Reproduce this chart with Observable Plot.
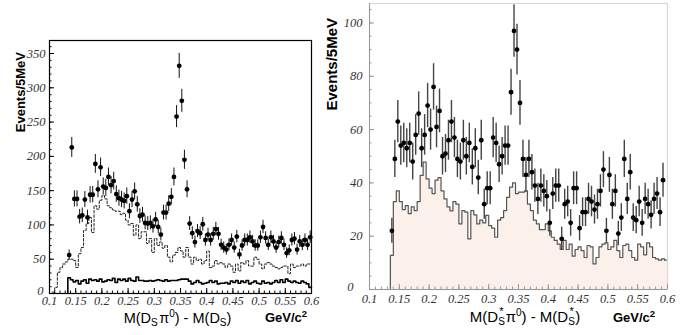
<!DOCTYPE html>
<html><head><meta charset="utf-8">
<script src="https://cdn.jsdelivr.net/npm/d3@7"></script>
<script src="https://cdn.jsdelivr.net/npm/@observablehq/plot@0.6"></script>
<style>
body{margin:0;background:#fff;}
#wrap{position:relative;width:699px;height:335px;overflow:hidden;background:#fff;}
#wrap svg{position:absolute;top:0;}
</style></head><body><div id="wrap"></div>
<script>
// ---------- data ----------
const binW = 0.005;

// Left panel: M(Ds pi0) - M(Ds)
const leftPointStart = 0.1375;
const leftPoints = [56, 213, 138, 138, 112, 114, 137, 111, 144, 144,
 189, 152, 184, 156, 154, 170, 158, 164, 145, 139,
 137, 135, 142, 120, 137, 149, 130, 113, 115, 103,
 102, 103, 98, 108, 97, 86, 118, 118, 131, 141,
 170, 258, 332, 281, 195, 152, 102, 88, 75, 91,
 88, 101, 78, 86, 78, 87, 94, 87, 71, 67,
 64, 71, 78, 67, 83, 57, 70, 78, 78, 82,
 76, 70, 70, 82, 97, 81, 71, 82, 76, 67,
 75, 81, 71, 59, 63, 78, 80, 64, 76, 71,
 78, 71, 82];
const leftSolidStart = 0.135;
const leftSolid = [23, 20, 17, 19, 14, 18, 20, 15, 21, 19,
 20, 18, 21, 17, 18, 20, 19, 22, 16, 21,
 19, 21, 18, 22, 19, 18, 24, 19, 19, 18,
 18, 19, 18, 19, 20, 19, 18, 20, 18, 19,
 19, 19, 20, 21, 21, 21, 18, 14, 16, 19,
 16, 14, 15, 16, 19, 16, 18, 14, 15, 15,
 16, 14, 18, 16, 19, 15, 18, 16, 19, 14,
 16, 18, 15, 14, 18, 15, 16, 14, 16, 19,
 16, 20, 16, 21, 18, 16, 18, 16, 15, 18,
 16, 14, 9];
const leftDashedStart = 0.105;
const leftDashed = [2, 9, 31, 38, 43, 46, 50, 50, 48, 38,
 58, 67, 92, 102, 111, 89, 128, 123, 136, 143,
 138, 128, 125, 122, 120, 120, 115, 117, 107, 100,
 102, 85, 100, 80, 90, 90, 73, 80, 60, 80,
 70, 75, 66, 70, 53, 46, 56, 60, 67, 62,
 53, 67, 53, 43, 53, 48, 50, 43, 48, 62,
 38, 40, 48, 43, 45, 43, 38, 43, 40, 31,
 43, 33, 45, 43, 48, 40, 40, 53, 50, 43,
 36, 43, 45, 43, 40, 38, 36, 38, 40, 40,
 29, 43, 38, 40, 40, 43, 40, 43, 43];

// Right panel: M(Ds* pi0) - M(Ds*)
const rightPointStart = 0.1375;
const rightPoints = [22, 49, 63, 54, 55, 53, 55, 48, 58, 66,
 53, 58, 69, 60, 76, 61, 67, 50, 51, 56,
 63, 57, 49, 48, 56, 50, 55, 46, 53, 42,
 56, 32, 38, 38, 57, 55, 47, 50, 54, 54,
 74, 97, 90, 70, 49, 43, 49, 44, 39, 34,
 39, 37, 35, 25, 36, 39, 39, 19, 32, 33,
 25, 38, 38, 23, 29, 29, 34, 33, 30, 32,
 37, 45, 22, 43, 32, 37, 21, 27, 49, 34,
 44, 27, 26, 33, 25, 34, 32, 28, 34, 36,
 29, 41];
const rightHistStart = 0.135;
const rightHist = [12.8, 33, 37, 33, 30, 31.5, 28.5, 31, 29.6, 33,
 42.8, 47.8, 41.5, 38, 36, 41, 42, 37, 34, 31,
 29.5, 33, 32, 24.6, 29.6, 29, 19, 29.6, 28, 24.6,
 26, 25, 27.8, 24, 23, 19.6, 26, 27, 29.6, 34.6,
 38.4, 40,
 36, 36.5, 36.5, 37, 32, 29.6, 26, 24.6, 22.5, 22.5,
 24.6, 22, 19.6, 18.4, 17, 15, 18.4, 15, 17, 12.5,
 15, 16, 14.6, 12, 16.5, 16, 9.6, 12, 16, 17,
 17.5, 15, 16, 18.4, 14.6, 12, 16.5, 17, 14.6, 12,
 11, 17, 16, 13, 17.5, 16, 12, 11.5, 11, 11.5, 11];

// Axes
const xDomain = [0.1, 0.6];
const xTicks = [0.1, 0.15, 0.2, 0.25, 0.3, 0.35, 0.4, 0.45, 0.5, 0.55, 0.6];
const xTickLabels = ["0.1", "0.15", "0.2", "0.25", "0.3", "0.35", "0.4", "0.45", "0.5", "0.55", "0.6"];
const leftYDomain = [0, 369];
const leftYTicks = [0, 50, 100, 150, 200, 250, 300, 350];
const leftYTickLabels = ["0", "50", "100", "150", "200", "250", "300", "350"];
const rightYDomain = [0, 107.3];
const rightYTicks = [0, 20, 40, 60, 80, 100];
const rightYTickLabels = ["0", "20", "40", "60", "80", "100"];

// ---------- helpers ----------
const xMinor = d3.range(0, 51).map(i => 0.1 + i * 0.01);
const leftYMinor = d3.range(0, 37).map(i => i * 10);
const rightYMinor = d3.range(0, 22).map(i => i * 5);
const fmtFrom = (ticks, labels) => d => labels[ticks.findIndex(t => Math.abs(t - d) < 1e-9)];

function pointsOf(start, vals) {
  return vals.map((v, i) => ({x: start + i * binW, y: v}));
}
function stepsOf(start, vals, closeAtZero) {
  const pts = [];
  if (closeAtZero) pts.push({x: start, y: 0});
  vals.forEach((v, i) => pts.push({x: start + i * binW, y: v}));
  pts.push({x: start + vals.length * binW, y: vals[vals.length - 1]});
  return pts;
}

const lp = pointsOf(leftPointStart, leftPoints);
const rp = pointsOf(rightPointStart, rightPoints);

const tf = {fontFamily: "Liberation Serif", fontStyle: "italic", fontSize: 12.5};

// ---------- left plot ----------
const left = Plot.plot({
  width: 340, height: 335,
  marginLeft: 49, marginRight: 29, marginTop: 40, marginBottom: 42,
  x: {domain: xDomain},
  y: {domain: leftYDomain},
  style: {background: "transparent", overflow: "visible"},
  marks: [
    Plot.lineY(stepsOf(leftDashedStart, leftDashed, false), {x: "x", y: "y", curve: "step-after", stroke: "#222", strokeWidth: 1, strokeDasharray: "2.5,1.8"}),
    Plot.lineY(stepsOf(leftSolidStart, leftSolid, true), {x: "x", y: "y", curve: "step-after", stroke: "#000", strokeWidth: 1.6}),
    Plot.ruleX(lp, {x: "x", y1: d => d.y - Math.sqrt(d.y), y2: d => d.y + Math.sqrt(d.y), stroke: "#111", strokeWidth: 1}),
    Plot.dot(lp, {x: "x", y: "y", r: 2.4, fill: "#000"}),
    Plot.frame({stroke: "#000", strokeWidth: 1.2}),
    Plot.axisY(leftYMinor, {tickSize: -2.5, fill: "none", stroke: "#000", label: null}),
    Plot.axisY(leftYTicks, {tickSize: -5, fill: "none", stroke: "#000", label: null}),
    Plot.axisY(leftYTicks.slice(1), {tickSize: 0, tickPadding: 4, fill: "#333", label: null, tickFormat: fmtFrom(leftYTicks, leftYTickLabels), ...tf}),
    Plot.axisY(leftYTicks.slice(0, 1), {tickSize: 0, tickPadding: 6, dy: -3, fill: "#333", label: null, tickFormat: fmtFrom(leftYTicks, leftYTickLabels), ...tf}),
    Plot.axisX(xMinor, {tickSize: -2.5, fill: "none", stroke: "#000", label: null}),
    Plot.axisX(xTicks, {tickSize: -5, fill: "none", stroke: "#000", label: null}),
    Plot.axisX(xTicks, {tickSize: 0, tickPadding: 3, fill: "#333", label: null, tickFormat: fmtFrom(xTicks, xTickLabels), ...tf})
  ]
});
left.style.left = "0px";

// ---------- right plot ----------
const right = Plot.plot({
  width: 381, height: 335,
  marginLeft: 51, marginRight: 32, marginTop: 3, marginBottom: 46,
  x: {domain: xDomain},
  y: {domain: rightYDomain},
  style: {background: "transparent", overflow: "visible"},
  marks: [
    Plot.areaY(stepsOf(rightHistStart, rightHist, false), {x: "x", y: "y", curve: "step-after", fill: "#fcf0ea"}),
    Plot.lineY(stepsOf(rightHistStart, rightHist, true), {x: "x", y: "y", curve: "step-after", stroke: "#555", strokeWidth: 1.2}),
    Plot.ruleX(rp, {x: "x", y1: d => d.y - Math.sqrt(d.y), y2: d => d.y + Math.sqrt(d.y), stroke: "#444", strokeWidth: 1.4}),
    Plot.dot(rp, {x: "x", y: "y", r: 2.4, fill: "#000"}),
    Plot.frame({stroke: "#d8d8d8", strokeWidth: 1.2}),
    Plot.ruleX([xDomain[0]], {stroke: "#999"}),
    Plot.ruleY([rightYDomain[0]], {stroke: "#999"}),
    Plot.axisY(rightYMinor, {tickSize: -2.5, fill: "none", stroke: "#999", label: null}),
    Plot.axisY(rightYTicks, {tickSize: -5, fill: "none", stroke: "#999", label: null}),
    Plot.axisY(rightYTicks.slice(1), {tickSize: 0, tickPadding: 7, fill: "#333", label: null, tickFormat: fmtFrom(rightYTicks, rightYTickLabels), ...tf}),
    Plot.axisY(rightYTicks.slice(0, 1), {tickSize: 0, tickPadding: 16, dy: -3, fill: "#333", label: null, tickFormat: fmtFrom(rightYTicks, rightYTickLabels), ...tf}),
    Plot.axisX(xMinor, {tickSize: -2.5, fill: "none", stroke: "#999", label: null}),
    Plot.axisX(xTicks, {tickSize: -5, fill: "none", stroke: "#999", label: null}),
    Plot.axisX(xTicks, {tickSize: 0, tickPadding: 5, fill: "#333", label: null, tickFormat: fmtFrom(xTicks, xTickLabels), ...tf})
  ]
});
right.style.left = "318px";

const wrap = document.getElementById("wrap");
wrap.appendChild(left);
wrap.appendChild(right);

// ---------- titles overlay ----------
const ov = d3.select(wrap).append("svg")
  .attr("width", 699).attr("height", 335)
  .style("left", "0px").style("pointer-events", "none");
const sans = "'Liberation Sans', Arial, Helvetica, sans-serif";

ov.append("text").attr("transform", "translate(24.5,52) rotate(-90)")
  .attr("text-anchor", "end").attr("font-family", sans).attr("font-weight", "bold")
  .attr("font-size", 13).attr("fill", "#000").text("Events/5MeV");
ov.append("text").attr("transform", "translate(337,18) rotate(-90)")
  .attr("text-anchor", "end").attr("font-family", sans).attr("font-weight", "bold")
  .attr("font-size", 15).attr("fill", "#000").text("Events/5MeV");

// left x title
{
  const t = ov.append("text").attr("x", 177.5).attr("y", 323).attr("text-anchor", "middle")
    .attr("font-family", sans).attr("font-size", 14.5).attr("fill", "#000");
  t.append("tspan").text("M(D");
  t.append("tspan").attr("font-size", 10).attr("dy", 3).text("S");
  t.append("tspan").attr("dx", 1.5).attr("dy", -3).text("π");
  t.append("tspan").attr("font-size", 10).attr("dy", -6).text("0");
  t.append("tspan").attr("dy", 6).text(") - M(D");
  t.append("tspan").attr("font-size", 10).attr("dy", 3).text("S");
  t.append("tspan").attr("dy", -3).text(")");
}
// right x title
{
  const t = ov.append("text").attr("x", 525).attr("y", 322).attr("text-anchor", "middle")
    .attr("font-family", sans).attr("font-size", 15).attr("fill", "#000");
  t.append("tspan").text("M(D");
  t.append("tspan").attr("font-size", 10).attr("dy", 3).text("S");
  t.append("tspan").attr("font-size", 11).attr("dx", -5.5).attr("dy", -10).text("*");
  t.append("tspan").attr("dx", 2).attr("dy", 7).text("π");
  t.append("tspan").attr("font-size", 10).attr("dy", -6).text("0");
  t.append("tspan").attr("dy", 6).text(") - M(D");
  t.append("tspan").attr("font-size", 10).attr("dy", 3).text("S");
  t.append("tspan").attr("font-size", 11).attr("dx", -5.5).attr("dy", -10).text("*");
  t.append("tspan").attr("dx", 1.5).attr("dy", 7).text(")");
}
// units
for (const x0 of [265, 613]) {
  const t = ov.append("text").attr("x", x0).attr("y", 322).attr("text-anchor", "start")
    .attr("font-family", sans).attr("font-weight", "bold").attr("font-size", 13).attr("fill", "#000");
  t.append("tspan").text("GeV/c");
  t.append("tspan").attr("font-size", 9.5).attr("dy", -5).text("2");
}
</script></body></html>
